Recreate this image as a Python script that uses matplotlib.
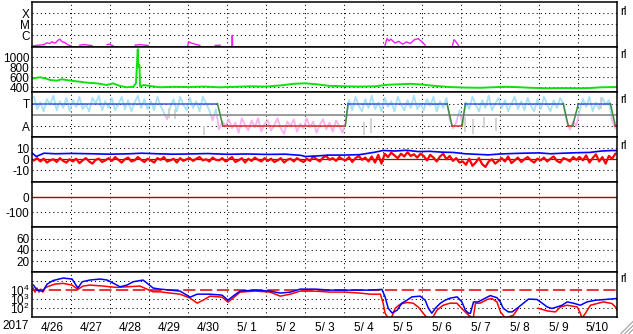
import numpy as np
import matplotlib
matplotlib.use('Agg')
import matplotlib.pyplot as plt
from matplotlib.lines import Line2D
from matplotlib.patches import Rectangle

plt.rcParams['font.family'] = ['Liberation Sans', 'DejaVu Sans']
plt.rcParams['mathtext.fontset'] = 'custom'
plt.rcParams['mathtext.rm'] = 'Liberation Sans'
plt.rcParams['mathtext.it'] = 'Liberation Sans'
FS = 8.5

# ---------------- data (time in days since 2017-04-26 00:00 UT) ----------------
day_labels = ['4/26', '4/27', '4/28', '4/29', '4/30', '5/ 1', '5/ 2', '5/ 3',
              '5/ 4', '5/ 5', '5/ 6', '5/ 7', '5/ 8', '5/ 9', '5/10']
year_label = '2017'

# GOES X-ray flux (log10 W/m2); NaN separates segments
xray_t = [0.02, 0.15, 0.3, 0.37, 0.45, 0.5, 0.58, 0.67, 0.71, 0.76, 0.84, 0.92, 1.0, np.nan,
          1.22, 1.3, 1.4, 1.53, np.nan,
          1.92, 1.97, 2.07, np.nan,
          2.64, 2.75, 2.85, 2.97, np.nan,
          3.99, 4.01, 4.08, 4.15, 4.22, 4.3, np.nan,
          4.69, 4.82, np.nan,
          5.12, 5.13, 5.14, np.nan,
          9.05, 9.1, 9.15, 9.2, 9.3, 9.4, 9.5, 9.6, 9.7, 9.8, 9.9, 10.0, 10.08, np.nan,
          10.78, 10.82, 10.86, 10.93]
xray_v = [-6.95, -6.9, -6.85, -6.68, -6.75, -6.58, -6.72, -6.42, -6.36, -6.58, -6.67, -6.88, -6.95, np.nan,
          -6.9, -6.85, -6.88, -6.93, np.nan,
          -6.85, -6.8, -6.95, np.nan,
          -6.9, -6.85, -6.88, -6.92, np.nan,
          -6.95, -6.58, -6.7, -6.78, -6.85, -6.92, np.nan,
          -6.92, -6.9, np.nan,
          -7.1, -6.0, -7.1, np.nan,
          -6.9, -6.3, -6.5, -6.35, -6.7, -6.55, -6.8, -6.6, -6.75, -6.4, -6.3, -6.6, -6.9, np.nan,
          -6.9, -6.4, -6.55, -6.9]

# Solar wind speed (km/s)
speed_t = [0.0, 0.1, 0.2, 0.33, 0.46, 0.63, 0.75, 0.88, 1.05, 1.22, 1.40, 1.65, 1.91, 2.07,
           2.25, 2.42, 2.59, 2.66, 2.706, 2.72, 2.748, 2.765, 2.85, 3.02, 3.28, 3.6, 4.0,
           4.4, 4.8, 5.2, 5.6, 6.0, 6.4, 6.7, 7.0, 7.3, 7.6, 8.0, 8.4, 8.8, 9.1, 9.4, 9.7,
           10.0, 10.3, 10.7, 11.1, 11.5, 11.8, 12.1, 12.4, 12.8, 13.2, 13.6, 14.0, 14.3,
           14.6, 15.0]
speed_v = [575, 590, 600, 580, 546, 532, 560, 546, 526, 512, 492, 480, 446, 480,
           426, 400, 412, 480, 1160, 812, 846, 412, 446, 426, 400, 410, 405,
           415, 400, 410, 420, 415, 440, 470, 480, 460, 430, 420, 415, 420, 450, 460, 470,
           455, 430, 405, 395, 390, 400, 410, 405, 390, 380, 385, 380, 385,
           400, 405]

# IMF sector (T = +1, A = -1)
sector_t = [0, 4.75, 4.89, 8.03, 8.10, 10.64, 10.77, 11.02, 11.11, 13.62, 13.75, 13.86,
            14.01, 14.83, 14.96, 15.0]
sector_v = [1, 1, -1, -1, 1, 1, -1, -1, 1, 1, -1, -1, 1, 1, -1, -1]

# IMF angle (2-hour samples, scaled to sector units)
phi = [1.6, 0.5, 1.1, 0.3, 1.4, 0.9, 1.7, 0.4, 1.2, 0.6, 1.5, 0.3,
       1.3, 0.7, 1.6, 0.5, 0.9, 0.3, 1.5, 1.0, 1.7, 0.4, 1.2, 0.6,
       1.5, 0.4, 0.9, 1.6, 0.5, 1.3, 0.3, 1.1, 1.7, 0.6, 1.4, 0.5,
       1.2, 0.4, 1.6, 0.8, 0.2, -0.4, 0.7, 1.4, 0.3, 1.6, 0.9, 0.4,
       1.5, 0.6, 1.2, 0.3, 1.6, 1.0, 0.4, -0.5, 0.5, -1.3, -0.6, -1.0,
       -0.4, -1.2, -0.7, -1.6, -0.3, -0.9, -1.4, -0.5, -1.1, -0.3, -1.5, -0.8,
       -0.5, -1.4, -0.9, -0.3, -1.2, -1.7, -0.6, -1.0, -0.4, -1.5, -0.8, -1.2,
       -0.3, -1.1, -0.6, -1.6, -0.9, -0.4, -1.3, -0.7, -1.5, -0.5, -1.0, -1.6,
       -0.6, 1.3, 0.4, 1.6, 0.8, 0.3, 1.4, 0.6, 1.7, 0.5, 1.1, 0.3,
       1.5, 0.7, 1.2, 0.3, 1.6, 0.9, 0.4, 1.3, 0.6, 1.7, 0.5, 1.0,
       0.4, 1.4, 0.8, 1.6, 0.3, 1.2, 0.6, 1.5, -0.4, -1.2, -0.7, 0.4,
       -0.9, 1.1, 0.5, 1.6, 0.9, 0.3, 1.3, 0.6, 1.7, 0.4, 1.0, 1.5,
       0.6, 1.3, 0.3, 1.0, 1.6, 0.5, 1.2, 0.4, 1.5, 0.8, 0.3, 1.4,
       0.5, 1.6, 0.9, 0.3, 1.3, 0.6, 1.5, 1.0, -0.5, -1.3, -0.6, -1.0,
       0.4, 1.4, 0.7, 1.6, 0.3, 1.1, 0.5, 1.5, 0.9, 1.3, -0.5, -1.2]
gray_t = [3.5, 3.65, 4.4, 8.5, 8.7, 11.1, 11.3, 11.6, 11.9, 14.6]
gray_lo = [-0.3, -0.4, -1.8, -1.8, -1.6, -1.5, -1.7, -1.2, -1.4, 0.5]
gray_hi = [0.6, 0.5, -1.0, -0.6, -0.3, -0.2, -0.4, -0.2, -0.3, 1.6]

# IMF Bt (nT)
bt_t = [0.0, 0.1, 0.2, 0.3, 0.6, 1.0, 1.5, 2.0, 2.5, 2.8, 3.2, 3.6, 4.0, 4.5, 5.0, 5.5,
        6.0, 6.5, 6.9, 7.0, 7.3, 7.6, 8.0, 8.4, 8.8, 9.0, 9.3, 9.6, 9.9, 10.2, 10.5,
        10.8, 11.1, 11.4, 11.7, 12.0, 12.3, 12.6, 13.0, 13.3, 13.6, 14.0, 14.3, 14.6,
        14.9, 15.0]
bt_v = [5.5, 2.5, 4.0, 5.5, 5.0, 5.3, 5.0, 4.6, 5.0, 5.5, 5.0, 4.6, 4.8, 5.2, 4.5, 4.8,
        4.4, 4.6, 3.5, 2.5, 3.0, 3.8, 3.8, 4.2, 6.5, 8.0, 7.5, 8.2, 7.0, 7.2, 6.5,
        6.2, 5.0, 4.5, 4.0, 4.8, 5.2, 5.5, 5.8, 5.0, 5.5, 6.0, 6.2, 7.5,
        8.0, 7.8]

# IMF Bz (nT), 2-hour samples
bz = [-1, 1, -2, 0.5, -3, -1, 0, -2.5, 1, -1.5, -3, 0,
      -2, 0.5, -3.5, -1, 1, -2, -4, -0.5, 0.5, -2.5, -1, 1,
      -1.5, 2, -0.5, -3, 0, 1.5, -2, -1, 2, -0.5, -2.5, 0.5,
      -1, -3, 1, -0.5, 2, -2, -1, 0.5, -3, 1, -1.5, 0,
      1, -1.5, 0.5, 2, -1, 0, -2, 1.5, -0.5, -1, 1, -2,
      0, 2, -2.5, -1, 1, -3, 0.5, -1.5, 1.5, -0.5, -2, 1,
      -1.5, 0.5, -2.5, -1, 1, -3, -0.5, 0.5, -2, 1, -1, -2.5,
      0.5, -1.5, 2.5, 0, -2, 1.5, 3, -0.5, 1, -1.5, 2, 0,
      -1, 2, -2.5, 1, 3, -0.5, 1.5, -2, 2.5, -3, 4, -4,
      5, 2, 6, 3.5, 1, 5, 2.5, 6.5, 3, 4.5, 1.5, 5,
      3, -1, 4, 1.5, -2, 2.5, 5, 0, 3, -1.5, 1, -3,
      -2, -5, 0.5, -6, -3, 1, -4.5, -7, -2, 0, -4, -1.5,
      1, -2, 2.5, -3.5, -1, 1.5, -2.5, 0, 2, -1, -3, 0.5,
      -1, 1.5, -2, 0.5, 2.5, -1.5, -3, 1, 0, -2, 2, -0.5,
      2, -1, 3.5, -3, 1, 4.5, -2, 2, -4, 3, 0.5, 5]

# Electron flux (log10)
eb_t = [0.03, 0.12, 0.27, 0.38, 0.53, 0.79, 1.02, 1.17, 1.28, 1.48, 1.74, 1.92, 2.07, 2.25,
        2.43, 2.59, 2.84, 2.94, 3.10, 3.28, 3.54, 3.79, 4.05, 4.23, 4.56, 4.87, 5.02, 5.15,
        5.33, 5.72, 6.10, 6.36, 6.62, 6.87, 7.26, 7.64, 8.03, 8.41, 8.67, 8.97, 9.05, 9.13,
        9.23, 9.36, 9.48, 9.61, 9.74, 9.95, 10.08, 10.16, 10.25, 10.34, 10.47, 10.59, 10.72,
        10.90, 11.02, 11.11, 11.19, 11.24, 11.32, 11.44, 11.62, 11.75, 11.92, 12.01, 12.08,
        12.21, 12.31, 12.44, 12.60, 12.73, 12.95, 13.08, 13.21, 13.33, 13.46, 13.59, 13.72,
        13.88, 14.06, 14.23, 14.45, 14.70, 15.0]
eb_v = [4.58, 4.02, 3.91, 4.69, 5.08, 5.36, 5.25, 4.25, 4.95, 5.14, 5.25, 5.14, 4.81, 4.39,
        4.58, 4.95, 5.14, 4.81, 4.25, 4.13, 4.02, 3.91, 3.24, 3.57, 3.57, 3.46, 2.90, 3.35,
        3.91, 4.02, 3.91, 3.69, 3.80, 4.13, 4.13, 4.02, 4.02, 4.02, 4.02, 4.10, 3.27, 2.01,
        1.48, 1.79, 2.57, 2.90, 3.27, 3.35, 2.90, 2.01, 1.45, 2.01, 2.57, 2.90, 3.13,
        3.27, 2.71, 1.79, 1.45, 1.45, 2.71, 2.71, 3.13, 3.41, 3.18, 2.68, 2.01,
        1.60, 1.60, 2.01, 2.57, 3.02, 2.98, 2.57, 2.15, 1.98, 2.15, 2.34, 2.71,
        2.57, 2.34, 2.71, 2.90, 2.98, 3.09]
er_t = [0.02, 0.07, 0.12, 0.17, 0.22, 0.27, 0.33, 0.38, 0.58, 0.79, 1.02, 1.17, 1.30, 1.48,
        1.82, 1.99, 2.17, 2.43, 2.76, 2.94, 3.10, 3.28, 3.54, 3.79, 4.05, 4.23, 4.38, 4.56,
        4.87, 5.02, 5.18, 5.33, 5.72, 6.10, 6.36, 6.62, 6.87, 7.26, 7.64, 8.03, 8.41, 8.67,
        8.93, 9.0, 9.05, 9.13, 9.21, 9.31, 9.44, 9.61, 9.77, 9.90, 10.03, 10.13, 10.26,
        10.38, 10.54, 10.72, 10.89, 11.06, 11.19, 11.31, 11.37, 11.49, 11.67, 11.79, 11.92,
        12.01, 12.08, 12.13, 12.34, 12.47, np.nan, 12.98, 13.21, 13.42, 13.55, 13.72, 13.98,
        14.06, 14.1, 14.19, 14.32, 14.49, 14.65, 14.87, 14.96, 15.0]
er_v = [4.25, 3.80, 4.25, 3.80, 4.13, 3.80, 4.25, 4.39, 4.69, 4.77, 4.58, 4.10, 4.47, 4.58,
        4.47, 4.39, 4.32, 4.39, 4.47, 4.13, 3.83, 3.83, 3.69, 3.57, 3.13, 2.57, 2.90, 3.35,
        3.24, 2.68, 3.24, 3.80, 3.91, 3.80, 3.35, 3.57, 3.91, 3.91, 3.80, 3.80, 3.69, 3.57,
        3.57, 2.57, 1.45, 0.9, 0.9, 2.01, 2.46, 2.65, 2.57, 2.15, 1.45, 0.9, 0.9,
        1.79, 2.34, 2.57, 2.57, 1.79, 1.24, 0.9, 2.57, 2.57, 2.98, 3.09, 2.71,
        1.60, 1.23, 0.9, 1.23, 2.01, np.nan, 2.01, 1.71, 1.60, 2.15, 2.34, 2.15,
        1.45, 0.9, 1.45, 2.34, 2.53, 2.71, 2.53, 2.15, 1.79]
e_threshold = 4.0

# ---------------- figure ----------------
W, H = 633, 334
fig = plt.figure(figsize=(W / 100, H / 100), dpi=100)
x0, x1 = 32.3, 617.0
top0, ph = 2.3, 45.0
axes = []
for i in range(7):
    t = top0 + ph * i
    ax = fig.add_axes([x0 / W, 1 - (t + ph) / H, (x1 - x0) / W, ph / H])
    ax.set_xlim(0, 15)
    ax.set_xticks([])
    for s in ax.spines.values():
        s.set_linewidth(1.1)
        s.set_zorder(10)
    ax.tick_params(axis='y', length=0, pad=2, labelsize=FS)
    for d in range(1, 15):
        ax.axvline(d, color='k', lw=0.75, ls=(0, (1, 3)), zorder=1)
    axes.append(ax)

dot = dict(color='k', lw=0.75, ls=(0, (1, 3)), zorder=1)

# Panel 1: X-ray
ax = axes[0]
ax.set_ylim(-7.09, -3.0)
for lv in (-6, -5, -4):
    ax.axhline(lv, **dot)
ax.set_yticks([-6, -5, -4], ['C', 'M', 'X'])
ax.plot(xray_t, xray_v, color='#f020f0', lw=1.0, zorder=3)

# Panel 2: speed
ax = axes[1]
ax.set_ylim(300, 1200)
for lv in (400, 600, 800, 1000):
    ax.axhline(lv, **dot)
ax.set_yticks([400, 600, 800, 1000], ['400', '600', '800', '1000'])
ax.plot(speed_t, speed_v, color='#10e010', lw=1.4, zorder=3)

# Panel 3: sector
ax = axes[2]
ax.set_ylim(-2, 2)
ax.axhline(-1, **dot)
ax.axhline(1, **dot)
tp = np.arange(len(phi)) / 12 + 1 / 24
l1, = ax.plot(tp, phi, color='#a8e2f6', lw=1.3, zorder=2)
l1.set_clip_path(Rectangle((0, 0), 15, 2, transform=ax.transData))
l2, = ax.plot(tp, phi, color='#f8b2f2', lw=1.3, zorder=2)
l2.set_clip_path(Rectangle((0, -2), 15, 2, transform=ax.transData))
ax.vlines(gray_t, gray_lo, gray_hi, color='#d0d0d0', lw=1.3, zorder=2)
ax.axhline(0, color='#808080', lw=1.1, zorder=3)
for i in range(len(sector_t) - 1):
    a, b = sector_v[i], sector_v[i + 1]
    c = '#3a5ae8' if (a == b == 1) else ('#e02828' if (a == b == -1) else '#3c8a3c')
    ax.plot(sector_t[i:i + 2], sector_v[i:i + 2], color=c, lw=1.1, zorder=4)
ax.set_yticks([1, -1], ['T', 'A'])

# Panel 4: Bt / Bz
ax = axes[3]
ax.set_ylim(-21, 20)
for lv in (10, -10):
    ax.axhline(lv, **dot)
ax.axhline(0, color='#b00000', lw=0.9, zorder=2)
tb = np.arange(len(bz)) / 12 + 1 / 24
ax.plot(tb, bz, color='#ff0000', lw=1.6, zorder=3)
ax.plot(bt_t, bt_v, color='#0000ff', lw=1.2, zorder=4)
ax.set_yticks([10, 0, -10], ['10', '0', '-10'])

# Panel 5
ax = axes[4]
ax.set_ylim(-200, 100)
ax.axhline(-100, **dot)
ax.axhline(0, color='#b00000', lw=1.0, zorder=2)
ax.set_yticks([0, -100], ['0', '-100'])

# Panel 6
ax = axes[5]
ax.set_ylim(0, 80)
for lv in (20, 40, 60):
    ax.axhline(lv, **dot)
ax.set_yticks([60, 40, 20], ['60', '40', '20'])

# Panel 7: electrons
ax = axes[6]
ax.set_ylim(1, 6)
for lv in (2, 3, 5):
    ax.axhline(lv, **dot)
ax.axhline(e_threshold, color='#e00000', lw=1.1, ls=(0, (8, 3)), zorder=2)
ax.plot(eb_t, eb_v, color='#0000ff', lw=1.1, zorder=4)
ax.plot(er_t, er_v, color='#ff0000', lw=1.1, zorder=3)
ax.set_yticks([4, 3, 2], [r'$10^4$', r'$10^3$', r'$10^2$'])
ax.set_xticks(np.arange(15) + 0.5, day_labels)
ax.tick_params(axis='x', length=0, pad=3.5, labelsize=FS)

fig.text(16 / W, 1 - 326 / H, year_label, fontsize=FS, ha='center', va='center')
for yy in (11.7, 55, 100, 145.7, 279.5):
    fig.text(620.5 / W, 1 - yy / H, 'rl', fontsize=FS, ha='left', va='center')

# resize grip
for k in range(3):
    a = 4 * k
    fig.add_artist(Line2D([(621 + a) / W, 633 / W], [1 - 333.5 / H, 1 - (321.5 + a) / H],
                          transform=fig.transFigure, color='#a0a0a0', lw=0.8))

fig.savefig('out.png', dpi=100)
